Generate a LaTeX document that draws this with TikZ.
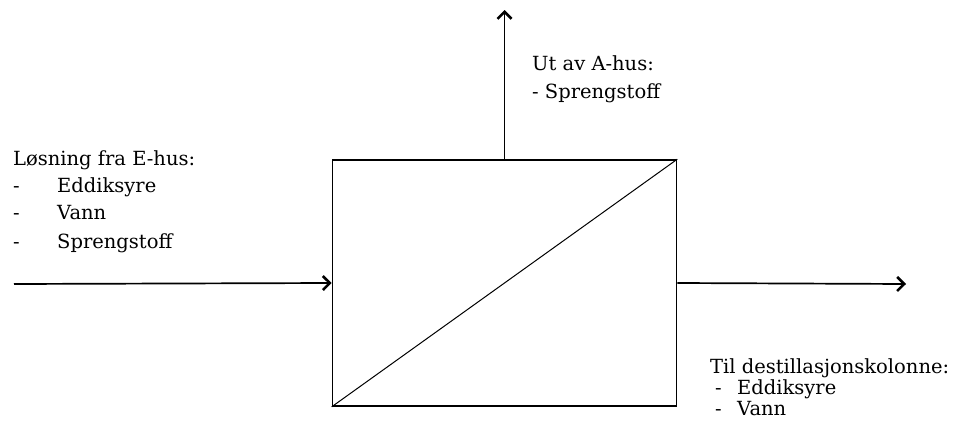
\documentclass[tikz,border=0pt]{standalone}
\usepackage{fontspec}
\setmainfont{DejaVu Serif}
\usetikzlibrary{arrows.meta}
\begin{document}
\begin{tikzpicture}[x=1pt,y=-1pt,
  lbl/.style={anchor=base west,inner sep=0pt,font=\fontsize{19.5}{22}\selectfont},
  flow/.style={line width=1.7pt,-{Straight Barb[length=7pt,width=14pt,line width=2.6pt]}},
  unit/.style={draw,line width=1.6pt,minimum width=344pt,minimum height=246pt,inner sep=0pt}]
\useasboundingbox (0,0) rectangle (962,423);
\node[unit] (box) at (504.5,283) {};
\draw[line width=1pt] (box.south west) -- (box.north east);
\coordinate (in) at (14,284);
\coordinate (out) at (906,284);
\coordinate (top) at (504.5,10);
\draw[flow] (in) -- (box.west);
\draw[flow] (box.east) -- (out);
\draw[flow] (box.north) -- (top);
% left labels
\node[lbl] (l0) at (13,165) {Løsning fra E-hus:};
\node[lbl] (l1d) at (13,192) {-};
\node[lbl] (l1) at (57,192) {Eddiksyre};
\node[lbl] (l2d) at (13,219) {-};
\node[lbl] (l2) at (57,219) {Vann};
\node[lbl] (l3d) at (13,248) {-};
\node[lbl] (l3) at (57,248) {Sprengstoff};
% top labels
\node[lbl] (t0) at (532,70) {Ut av A-hus:};
\node[lbl] (t1) at (532,98) {- Sprengstoff};
% right labels
\node[lbl] (r0) at (710,373) {Til destillasjonskolonne:};
\node[lbl] (r1d) at (715,394) {-};
\node[lbl] (r1) at (737,394) {Eddiksyre};
\node[lbl] (r2d) at (715,415) {-};
\node[lbl] (r2) at (737,415) {Vann};
\end{tikzpicture}
\end{document}
